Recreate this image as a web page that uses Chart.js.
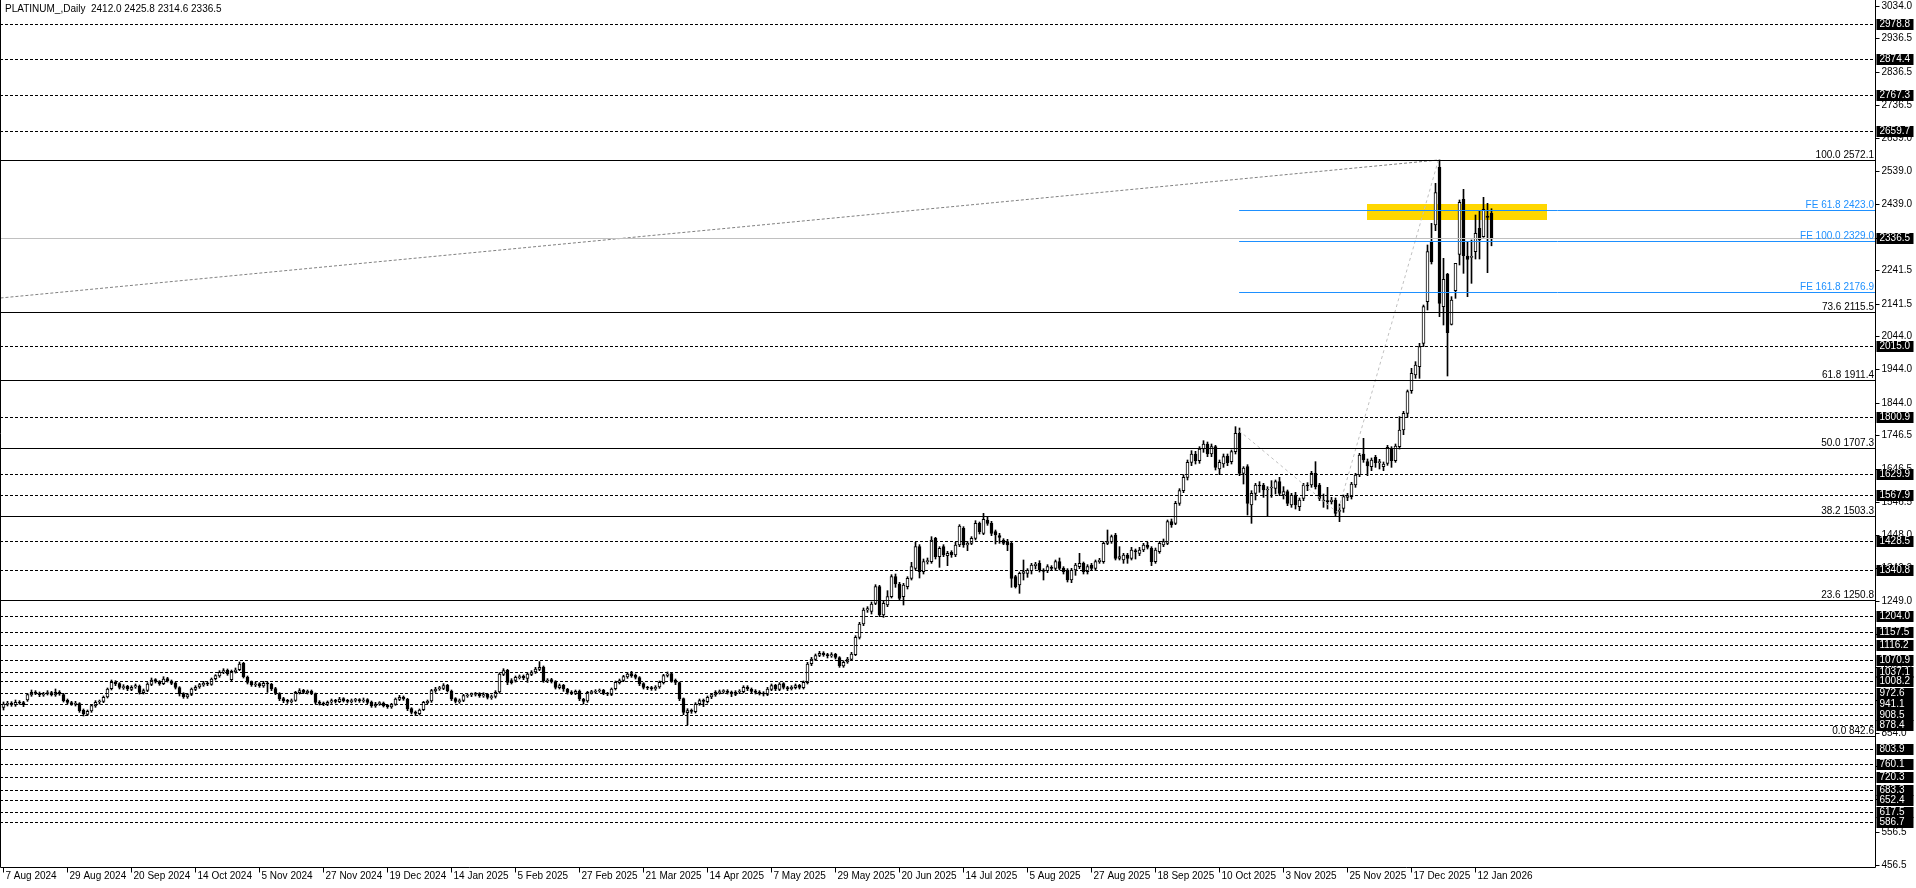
<!DOCTYPE html>
<html lang="en">
<head>
<meta charset="UTF-8" />
<title>PLATINUM_ Daily</title>
<style>
    html, body {
        margin: 0;
        padding: 0;
        background: #ffffff;
        overflow: hidden;
    }
    #chart {
        display: block;
    }
</style>
</head>
<body>
<canvas id="chart" width="1916" height="888"></canvas>
<script src="https://cdn.jsdelivr.net/npm/chart.js@4.4.0/dist/chart.umd.min.js"></script>
<script>
const symbol = "PLATINUM_";
const period = "Daily";

// one label every 16 daily bars, starting at the first bar
const labelStep = 16;
const dateLabels = ["7 Aug 2024", "29 Aug 2024", "20 Sep 2024", "14 Oct 2024", "5 Nov 2024", "27 Nov 2024",
    "19 Dec 2024", "14 Jan 2025", "5 Feb 2025", "27 Feb 2025", "21 Mar 2025", "14 Apr 2025", "7 May 2025",
    "29 May 2025", "20 Jun 2025", "14 Jul 2025", "5 Aug 2025", "27 Aug 2025", "18 Sep 2025", "10 Oct 2025",
    "3 Nov 2025", "25 Nov 2025", "17 Dec 2025", "12 Jan 2026"];

const opens = [
    930, 939, 943, 937, 946, 944, 952, 967, 976, 971,
    967, 971, 974, 967, 976, 968, 951, 944, 939, 941,
    921, 909, 919, 934, 946, 948, 961, 986, 1006, 1001,
    989, 993, 984, 991, 994, 974, 981, 999, 1013, 1007,
    1001, 1016, 1009, 1003, 989, 971, 961, 969, 984, 991,
    997, 1003, 999, 1016, 1024, 1036, 1041, 1013, 1037, 1043,
    1062, 1021, 1006, 997, 1001, 994, 1003, 999, 986, 971,
    956, 951, 947, 951, 974, 981, 974, 979, 971, 946,
    943, 939, 946, 951, 947, 956, 951, 947, 951, 953,
    949, 953, 946, 934, 941, 943, 936, 931, 939, 954,
    961, 954, 926, 916, 911, 923, 944, 949, 979, 986,
    987, 996, 979, 956, 947, 951, 964, 967, 969, 971,
    964, 969, 959, 963, 976, 1029, 1041, 1004, 1011, 1019,
    1023, 1017, 1029, 1036, 1044, 1051, 1009, 1013, 1007, 989,
    996, 984, 976, 972, 979, 954, 949, 974, 976, 979,
    981, 971, 969, 986, 1004, 1011, 1021, 1031, 1026, 1019,
    1001, 989, 989, 985, 991, 1004, 1026, 1031, 1011, 1004,
    956, 914, 921, 917, 941, 951, 947, 961, 967, 974,
    977, 979, 976, 969, 976, 977, 991, 984, 979, 976,
    973, 969, 984, 996, 984, 1001, 989, 986, 989, 996,
    989, 1004, 1061, 1074, 1086, 1093, 1087, 1084, 1089, 1079,
    1054, 1066, 1074, 1088, 1140, 1180, 1222, 1218, 1242, 1292,
    1207, 1237, 1262, 1322, 1300, 1262, 1292, 1317, 1347, 1412,
    1337, 1367, 1367, 1437, 1382, 1412, 1385, 1395, 1387, 1417,
    1467, 1417, 1422, 1437, 1482, 1452, 1492, 1482, 1457, 1445,
    1432, 1427, 1422, 1322, 1297, 1332, 1332, 1340, 1355, 1362,
    1342, 1340, 1350, 1347, 1367, 1347, 1342, 1312, 1342, 1352,
    1362, 1337, 1357, 1347, 1367, 1367, 1422, 1427, 1447, 1377,
    1372, 1387, 1377, 1400, 1392, 1402, 1417, 1407, 1367, 1397,
    1417, 1422, 1487, 1482, 1542, 1580, 1620, 1665, 1690, 1670,
    1705, 1720, 1690, 1712, 1645, 1660, 1684, 1667, 1697, 1752,
    1632, 1652, 1537, 1572, 1597, 1597, 1582, 1588, 1587, 1607,
    1567, 1577, 1537, 1567, 1532, 1557, 1597, 1597, 1632, 1597,
    1552, 1550, 1547, 1552, 1518, 1527, 1560, 1562, 1597, 1627,
    1690, 1667, 1652, 1680, 1664, 1652, 1662, 1707, 1670, 1712,
    1762, 1812, 1880, 1927, 1952, 2022, 2147, 2327, 2377, 2550,
    2132, 2230, 2079, 2180, 2289, 2454, 2284, 2280, 2297, 2367,
    2342, 2404, 2412.0
];
const highs = [
    946, 948, 947, 952, 950, 948, 972, 982, 980, 976,
    975, 980, 978, 985, 980, 972, 955, 948, 948, 944,
    925, 922, 939, 950, 952, 964, 988, 1012, 1010, 1004,
    998, 996, 995, 1000, 997, 985, 1004, 1018, 1016, 1010,
    1022, 1020, 1012, 1006, 992, 974, 972, 988, 995, 1002,
    1008, 1006, 1018, 1028, 1040, 1046, 1045, 1042, 1048, 1066,
    1065, 1024, 1009, 1006, 1004, 1008, 1006, 1002, 990, 974,
    960, 954, 955, 978, 986, 984, 982, 982, 973, 950,
    946, 949, 955, 954, 960, 959, 954, 955, 957, 956,
    958, 956, 949, 945, 947, 946, 939, 942, 958, 966,
    964, 957, 929, 919, 925, 948, 952, 984, 990, 993,
    1001, 999, 982, 959, 955, 969, 971, 973, 975, 974,
    974, 972, 967, 980, 1034, 1046, 1044, 1016, 1024, 1027,
    1027, 1034, 1040, 1050, 1067, 1054, 1016, 1017, 1010, 1000,
    999, 987, 980, 982, 982, 957, 978, 981, 983, 985,
    984, 975, 988, 1009, 1015, 1026, 1035, 1038, 1030, 1022,
    1004, 993, 993, 995, 1009, 1029, 1036, 1034, 1015, 1006,
    958, 926, 925, 944, 955, 955, 964, 972, 980, 982,
    983, 983, 979, 980, 983, 995, 995, 988, 983, 980,
    977, 990, 1000, 999, 1004, 1004, 993, 995, 1000, 999,
    1009, 1065, 1080, 1090, 1098, 1097, 1092, 1094, 1092, 1082,
    1070, 1080, 1095, 1145, 1185, 1228, 1232, 1246, 1298, 1296,
    1250, 1280, 1328, 1330, 1305, 1302, 1322, 1365, 1425, 1418,
    1375, 1378, 1442, 1440, 1412, 1418, 1398, 1400, 1425, 1478,
    1472, 1428, 1442, 1490, 1486, 1512, 1500, 1488, 1462, 1452,
    1436, 1434, 1425, 1326, 1336, 1372, 1346, 1362, 1365, 1370,
    1346, 1358, 1355, 1372, 1378, 1352, 1346, 1347, 1362, 1392,
    1366, 1358, 1362, 1372, 1377, 1427, 1462, 1447, 1452, 1412,
    1392, 1392, 1410, 1405, 1410, 1422, 1425, 1412, 1408, 1428,
    1435, 1492, 1495, 1548, 1586, 1628, 1672, 1700, 1698, 1712,
    1730, 1726, 1720, 1716, 1672, 1690, 1690, 1702, 1772, 1768,
    1652, 1658, 1580, 1602, 1607, 1602, 1592, 1610, 1612, 1620,
    1592, 1582, 1572, 1575, 1558, 1602, 1604, 1638, 1667, 1602,
    1570, 1590, 1560, 1558, 1540, 1567, 1572, 1605, 1632, 1692,
    1737, 1675, 1678, 1686, 1674, 1666, 1716, 1712, 1720, 1802,
    1818, 1882, 1947, 1967, 2022, 2137, 2317, 2382, 2502, 2572.1,
    2277, 2232, 2162, 2262, 2452, 2484, 2327, 2332, 2407, 2419,
    2460, 2442, 2425.8
];
const lows = [
    922, 934, 933, 933, 939, 932, 948, 963, 968, 962,
    963, 967, 964, 963, 966, 946, 940, 936, 934, 915,
    904, 905, 915, 930, 940, 944, 958, 982, 995, 985,
    984, 980, 980, 987, 970, 970, 977, 995, 1003, 996,
    998, 1006, 998, 985, 964, 957, 957, 965, 980, 987,
    993, 995, 996, 1012, 1020, 1031, 1026, 1010, 1033, 1040,
    1018, 1000, 993, 992, 990, 990, 975, 980, 968, 950,
    944, 942, 943, 948, 970, 971, 970, 968, 940, 937,
    935, 935, 942, 943, 944, 946, 943, 943, 946, 945,
    945, 941, 930, 930, 936, 931, 927, 927, 936, 950,
    951, 920, 910, 905, 907, 920, 940, 945, 975, 981,
    983, 976, 950, 943, 942, 947, 960, 962, 964, 960,
    960, 955, 954, 958, 972, 1025, 998, 1000, 1006, 1015,
    1013, 1005, 1025, 1032, 1040, 1005, 1004, 1003, 985, 985,
    978, 970, 968, 968, 950, 940, 945, 970, 972, 975,
    968, 965, 965, 982, 1000, 1007, 1017, 1020, 1015, 995,
    985, 983, 981, 981, 987, 1000, 1021, 1005, 998, 950,
    908, 877, 912, 913, 936, 932, 943, 956, 963, 970,
    972, 970, 962, 965, 971, 973, 980, 973, 970, 967,
    964, 965, 980, 980, 980, 985, 980, 982, 985, 985,
    985, 1000, 1055, 1070, 1082, 1083, 1078, 1080, 1075, 1050,
    1050, 1062, 1070, 1085, 1135, 1175, 1215, 1210, 1238, 1202,
    1200, 1232, 1258, 1290, 1250, 1237, 1285, 1312, 1342, 1318,
    1330, 1360, 1362, 1375, 1350, 1382, 1355, 1380, 1382, 1412,
    1410, 1400, 1418, 1432, 1450, 1448, 1476, 1445, 1420, 1422,
    1418, 1400, 1290, 1288, 1272, 1312, 1320, 1330, 1345, 1336,
    1312, 1334, 1341, 1340, 1342, 1330, 1306, 1304, 1326, 1346,
    1330, 1330, 1342, 1340, 1362, 1362, 1418, 1422, 1372, 1372,
    1362, 1362, 1372, 1375, 1385, 1397, 1405, 1355, 1362, 1392,
    1412, 1418, 1470, 1478, 1536, 1574, 1612, 1655, 1660, 1662,
    1695, 1682, 1682, 1642, 1628, 1650, 1655, 1660, 1690, 1625,
    1600, 1507, 1482, 1552, 1575, 1560, 1502, 1560, 1570, 1565,
    1555, 1535, 1530, 1525, 1520, 1550, 1580, 1590, 1585, 1550,
    1530, 1525, 1540, 1505, 1487, 1515, 1550, 1555, 1590, 1622,
    1665, 1625, 1640, 1650, 1645, 1640, 1656, 1650, 1665, 1705,
    1748, 1800, 1872, 1917, 1917, 2012, 2122, 2260, 2360, 2102,
    2077, 1924, 2077, 2157, 2257, 2232, 2162, 2202, 2275, 2275,
    2340, 2234, 2314.6
];
const closes = [
    940, 942, 938, 945, 943, 938, 968, 975, 972, 968,
    970, 973, 968, 975, 970, 950, 945, 940, 942, 920,
    910, 918, 935, 945, 947, 960, 985, 1005, 1000, 990,
    992, 985, 990, 995, 975, 980, 1000, 1012, 1008, 1000,
    1015, 1010, 1002, 990, 970, 962, 968, 985, 990, 998,
    1002, 1000, 1015, 1025, 1035, 1040, 1030, 1038, 1042, 1060,
    1022, 1005, 998, 1000, 995, 1002, 1000, 985, 972, 955,
    950, 948, 950, 975, 980, 975, 978, 972, 945, 942,
    940, 945, 950, 948, 955, 950, 948, 950, 952, 950,
    952, 945, 935, 940, 942, 935, 932, 938, 955, 960,
    955, 925, 915, 912, 922, 945, 948, 980, 985, 988,
    995, 980, 955, 948, 950, 965, 966, 968, 970, 965,
    968, 960, 962, 975, 1030, 1040, 1005, 1010, 1020, 1022,
    1018, 1030, 1035, 1045, 1050, 1010, 1012, 1008, 990, 995,
    985, 975, 973, 978, 955, 948, 975, 977, 978, 980,
    972, 970, 985, 1005, 1010, 1022, 1030, 1025, 1020, 1000,
    990, 988, 986, 990, 1005, 1025, 1030, 1010, 1005, 955,
    915, 920, 918, 940, 950, 948, 960, 968, 975, 976,
    978, 975, 970, 975, 978, 990, 985, 978, 975, 972,
    970, 985, 995, 985, 1000, 990, 985, 990, 995, 990,
    1005, 1060, 1075, 1085, 1092, 1088, 1085, 1088, 1080, 1055,
    1065, 1075, 1090, 1140, 1180, 1222, 1226, 1240, 1292, 1207,
    1242, 1262, 1322, 1300, 1257, 1297, 1317, 1352, 1412, 1337,
    1367, 1370, 1432, 1382, 1407, 1387, 1392, 1388, 1417, 1474,
    1417, 1422, 1437, 1482, 1457, 1494, 1482, 1452, 1447, 1440,
    1422, 1417, 1317, 1292, 1332, 1337, 1342, 1357, 1360, 1342,
    1338, 1352, 1347, 1367, 1347, 1337, 1312, 1342, 1357, 1362,
    1337, 1352, 1347, 1367, 1372, 1422, 1427, 1442, 1377, 1382,
    1387, 1377, 1402, 1397, 1402, 1417, 1410, 1367, 1402, 1422,
    1427, 1487, 1477, 1542, 1580, 1620, 1665, 1690, 1670, 1705,
    1720, 1690, 1712, 1650, 1665, 1682, 1664, 1697, 1752, 1632,
    1648, 1542, 1572, 1597, 1594, 1582, 1585, 1590, 1607, 1572,
    1577, 1542, 1567, 1537, 1552, 1597, 1594, 1632, 1592, 1557,
    1549, 1547, 1552, 1512, 1521, 1562, 1565, 1600, 1627, 1687,
    1672, 1654, 1672, 1664, 1667, 1660, 1710, 1670, 1714, 1762,
    1812, 1877, 1932, 1957, 2012, 2132, 2297, 2267, 2474, 2142,
    2214, 2054, 2152, 2262, 2445, 2285, 2274, 2283, 2352, 2332,
    2424, 2400, 2336.5
];

// price scale ticks shown on the right axis
const priceTicks = [3034.0, 2936.5, 2836.5, 2736.5, 2639.0, 2539.0, 2439.0, 2339.0, 2241.5, 2141.5,
    2044.0, 1944.0, 1844.0, 1746.5, 1646.5, 1546.5, 1448.0, 1349.0, 1249.0, 1149.5, 1051.5, 952.0,
    854.0, 754.5, 655.0, 556.5, 456.5];

// horizontal support / resistance levels
const levelPrices = [2978.8, 2874.4, 2767.3, 2659.7, 2015.0, 1800.9, 1629.9, 1567.9, 1428.5, 1340.8,
    1204.0, 1157.5, 1116.2, 1070.9, 1037.1, 1008.2, 972.6, 941.1, 908.5, 878.4, 803.9, 760.1, 720.3,
    683.3, 652.4, 617.5, 586.7];

// fibonacci retracement
const fiboRatios = ["100.0", "73.6", "61.8", "50.0", "38.2", "23.6", "0.0"];
const fiboPrices = [2572.1, 2115.5, 1911.4, 1707.3, 1503.3, 1250.8, 842.6];
const fiboAnchorBars = [-1143, 358.8];
const fiboAnchorPrices = [842.6, 2572.1];

// fibonacci expansion
const feRatios = ["61.8", "100.0", "161.8"];
const fePrices = [2423.0, 2329.0, 2176.9];
const feAnchorBars = [308.9, 333.5, 358.8];
const feAnchorPrices = [1760.0, 1514.0, 2575.1];

// yellow zone
const zoneBars = [340.9, 385.9];
const zonePrices = [2392.0, 2440.0];

const FONT = '10px "Liberation Sans", Arial, sans-serif';
const BLUE = "#1e90ff";

const mt4Plugin = {
    id: "mt4",
    beforeDatasetsDraw(chart) {
        const { ctx, scales: { x, y } } = chart;
        const x0 = x.getPixelForValue(zoneBars[0]);
        const x1 = x.getPixelForValue(zoneBars[1]);
        const y0 = y.getPixelForValue(zonePrices[1]);
        const y1 = y.getPixelForValue(zonePrices[0]);
        ctx.save();
        ctx.fillStyle = "#ffd700";
        ctx.fillRect(Math.round(x0), Math.round(y0), Math.round(x1 - x0), Math.round(y1 - y0));
        ctx.restore();
    },
    afterDatasetsDraw(chart) {
        const { ctx, chartArea: a, scales: { x, y } } = chart;
        const crisp = (v) => Math.round(v) + 0.5;
        const hline = (p, x0) => {
            const py = crisp(y.getPixelForValue(p));
            ctx.beginPath();
            ctx.moveTo(x0, py);
            ctx.lineTo(a.right, py);
            ctx.stroke();
            return py;
        };
        ctx.save();
        ctx.lineWidth = 1;
        ctx.font = FONT;

        // dashed levels
        ctx.strokeStyle = "#000";
        ctx.setLineDash([3, 2]);
        levelPrices.forEach((p) => hline(p, a.left));
        ctx.setLineDash([]);

        // bid line
        ctx.strokeStyle = "#c0c0c0";
        hline(closes[closes.length - 1], a.left);

        // fibo retracement
        ctx.strokeStyle = "#000";
        ctx.fillStyle = "#000";
        ctx.textAlign = "right";
        ctx.textBaseline = "alphabetic";
        fiboPrices.forEach((p, i) => {
            const py = hline(p, a.left);
            ctx.fillText(fiboRatios[i] + " " + p.toFixed(1), a.right - 2, py - 3);
        });

        // fibo expansion
        ctx.strokeStyle = BLUE;
        ctx.fillStyle = BLUE;
        const feStart = x.getPixelForValue(feAnchorBars[0]);
        fePrices.forEach((p, i) => {
            const py = hline(p, feStart);
            ctx.fillText("FE " + feRatios[i] + " " + p.toFixed(1), a.right - 2, py - 3);
        });
        ctx.restore();
    },
    afterDraw(chart) {
        const { ctx, chartArea: a, scales: { x, y } } = chart;
        const right = Math.round(a.right) - 0.5;
        const bottom = Math.round(a.bottom) - 0.5;
        ctx.save();
        ctx.lineWidth = 1;
        ctx.strokeStyle = "#000";
        ctx.fillStyle = "#000";
        ctx.font = FONT;

        // frame
        ctx.beginPath();
        ctx.moveTo(0.5, 0);
        ctx.lineTo(0.5, bottom);
        ctx.lineTo(right, bottom);
        ctx.lineTo(right, 0);
        ctx.stroke();

        // price axis
        ctx.textAlign = "left";
        ctx.textBaseline = "middle";
        priceTicks.forEach((t) => {
            const py = Math.round(y.getPixelForValue(t)) + 0.5;
            ctx.beginPath();
            ctx.moveTo(right, py);
            ctx.lineTo(right + 4, py);
            ctx.stroke();
            ctx.fillText(t.toFixed(1), right + 6, py);
        });

        // black price labels for levels and the last price
        const boxes = levelPrices.concat([closes[closes.length - 1]]);
        boxes.forEach((p) => {
            const py = Math.round(y.getPixelForValue(p));
            ctx.fillStyle = "#000";
            ctx.fillRect(right + 1, py - 5, 37, 11);
            ctx.fillStyle = "#fff";
            ctx.fillText(p.toFixed(1), right + 4, py + 0.5);
        });

        // time axis
        ctx.fillStyle = "#000";
        dateLabels.forEach((s, k) => {
            const px = Math.floor(x.getPixelForValue(k * labelStep)) + 0.5;
            ctx.beginPath();
            ctx.moveTo(px, bottom);
            ctx.lineTo(px, bottom + 5);
            ctx.stroke();
            ctx.fillText(s, px + 2, bottom + 9);
        });

        // title
        const n = closes.length - 1;
        const title = symbol + "," + period + "  " + [opens[n], highs[n], lows[n], closes[n]]
            .map((v) => v.toFixed(1)).join(" ");
        ctx.fillText(title, 5, 9);
        ctx.restore();
    }
};

const wickData = closes.map((c, i) => ({ x: i, y: [lows[i], highs[i]] }));
const bodyData = closes.map((c, i) => ({ x: i, y: [opens[i], c] }));

new Chart(document.getElementById("chart"), {
    type: "bar",
    data: {
        datasets: [
            {
                type: "line",
                data: [
                    { x: fiboAnchorBars[0], y: fiboAnchorPrices[0] },
                    { x: fiboAnchorBars[1], y: fiboAnchorPrices[1] }
                ],
                borderColor: "#808080",
                borderWidth: 1,
                borderDash: [3, 2],
                pointRadius: 0,
                order: 1
            },
            {
                type: "line",
                data: feAnchorBars.map((b, i) => ({ x: b, y: feAnchorPrices[i] })),
                borderColor: "#c0c0c0",
                borderWidth: 1,
                borderDash: [3, 3],
                pointRadius: 0,
                order: 1
            },
            {
                data: bodyData,
                backgroundColor: (c) => closes[c.dataIndex] >= opens[c.dataIndex] ? "#ffffff" : "#000000",
                borderColor: "#000000",
                borderWidth: 1,
                borderSkipped: false,
                barThickness: 3,
                minBarLength: 1,
                grouped: false,
                order: 2
            },
            {
                data: wickData,
                backgroundColor: "#000000",
                borderWidth: 0,
                barThickness: 1,
                grouped: false,
                order: 3
            }
        ]
    },
    options: {
        responsive: false,
        animation: false,
        devicePixelRatio: 1,
        layout: { padding: { left: 0, right: 40, top: 0, bottom: 20 } },
        scales: {
            x: { type: "linear", min: -0.875, max: 468.125, offset: false, display: false },
            y: { type: "linear", min: 448, max: 3052, display: false }
        },
        plugins: {
            legend: { display: false },
            tooltip: { enabled: false }
        },
        events: []
    },
    plugins: [mt4Plugin]
});
</script>
</body>
</html>
